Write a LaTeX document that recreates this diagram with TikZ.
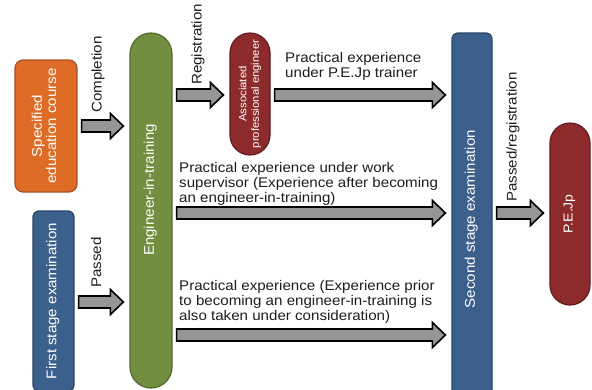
\documentclass[tikz,border=0pt]{standalone}
\usepackage{fontspec}
\setmainfont{Liberation Sans}[FakeStretch=1.08]
\usetikzlibrary{calc}

\definecolor{orangebox}{RGB}{222,108,38}
\definecolor{orangeline}{RGB}{165,82,40}
\definecolor{greenbox}{RGB}{114,142,64}
\definecolor{greenline}{RGB}{82,106,44}
\definecolor{bluebox}{RGB}{60,96,140}
\definecolor{blueline}{RGB}{42,68,104}
\definecolor{redbox}{RGB}{140,42,44}
\definecolor{redline}{RGB}{98,28,30}
\definecolor{arrowgray}{RGB}{150,150,150}
\definecolor{labelgray}{RGB}{30,30,30}

\tikzset{
  stagebox/.style={draw, line width=1.2pt, rounded corners=7pt, text=white, inner sep=0pt,
    font=\fontsize{14}{14}\selectfont},
  capsule/.style={stagebox, rounded corners=20pt},
  fatarrow/.style={draw=black, line width=1.6pt, fill=arrowgray, line join=miter},
  steplabel/.style={rotate=90, anchor=west, text=labelgray, inner sep=0pt,
    font=\fontsize{14}{15}\selectfont},
  notelabel/.style={anchor=north west, align=left, text=labelgray, inner sep=0pt,
    font=\fontsize{14}{15}\selectfont}
}

% vertical text in a box
\newcommand{\vtext}[1]{\rotatebox{90}{\begin{tabular}{@{}c@{}}#1\end{tabular}}}

% fat arrow, y taken from the end point
\newcommand{\fatarrow}[2]{%
  \draw[fatarrow] let \p1=#1, \p2=#2 in
    (\x1+4pt,\y2+6pt) -- (\x2-19pt,\y2+6pt) -- (\x2-19pt,\y2+12.5pt) -- (\x2-6pt,\y2)
    -- (\x2-19pt,\y2-12.5pt) -- (\x2-19pt,\y2-6pt) -- (\x1+4pt,\y2-6pt) -- cycle;}

\begin{document}
\begin{tikzpicture}[x=1pt,y=-1pt]

\useasboundingbox[fill=white] (0,0) rectangle (592,389);
\clip (0,0) rectangle (592,389);

% rows of the arrows
\coordinate (rowA) at (0,95);
\coordinate (rowB) at (0,126);
\coordinate (rowC) at (0,213);
\coordinate (rowD) at (0,302);
\coordinate (rowE) at (0,335);

% boxes
\node[stagebox, fill=orangebox, draw=orangeline, rounded corners=8pt,
  minimum width=62pt, minimum height=132pt] (spec) at (46,126)
  {\vtext{Specified\\education course}};
\node[stagebox, fill=bluebox, draw=blueline, rounded corners=6pt,
  minimum width=41pt, minimum height=180pt] (first) at (53.5,301)
  {\vtext{First stage examination}};
\node[capsule, fill=greenbox, draw=greenline, rounded corners=21pt,
  minimum width=42pt, minimum height=355pt] (trainee) at (151,210.5) {};
\node[text=white, inner sep=0pt, font=\fontsize{14}{14}\selectfont] (traineename) at (151,190)
  {\vtext{Engineer-in-training}};
\node[capsule, fill=redbox, draw=redline, font=\fontsize{10.5}{12.5}\selectfont,
  minimum width=40pt, minimum height=122pt] (assoc) at (250,94)
  {\vtext{Associated\\professional engineer}};
\node[stagebox, fill=bluebox, draw=blueline, rounded corners=6pt,
  minimum width=40pt, minimum height=372pt] (second) at (472,219)
  {\vtext{Second stage examination}};
\node[capsule, fill=redbox, draw=redline, font=\fontsize{13}{13}\selectfont,
  minimum width=40pt, minimum height=182pt] (pej) at (570,214)
  {\vtext{P.E.Jp}};

% arrows
\fatarrow{(spec.east)}{(trainee.west |- rowB)}
\fatarrow{(first.east)}{(trainee.west |- rowD)}
\fatarrow{(trainee.east)}{(assoc.west |- rowA)}
\fatarrow{(assoc.east)}{(second.west |- rowA)}
\fatarrow{(trainee.east)}{(second.west |- rowC)}
\fatarrow{(trainee.east)}{(second.west |- rowE)}
\fatarrow{(second.east)}{(pej.west |- rowC)}

% labels
\node[steplabel] (completion) at (98,113) {Completion};
\node[steplabel] (registration) at (198,85) {Registration};
\node[steplabel] (passed) at (96,288) {Passed};
\node[steplabel] (passedreg) at (513,202) {Passed/registration};
\node[notelabel] (trainernote) at (285,52)
  {Practical experience\\under P.E.Jp trainer};
\node[notelabel] (supervisornote) at (179,162)
  {Practical experience under work\\supervisor (Experience after becoming\\an engineer-in-training)};
\node[notelabel] (priornote) at (179,280)
  {Practical experience (Experience prior\\to becoming an engineer-in-training is\\also taken under consideration)};

\end{tikzpicture}
\end{document}
